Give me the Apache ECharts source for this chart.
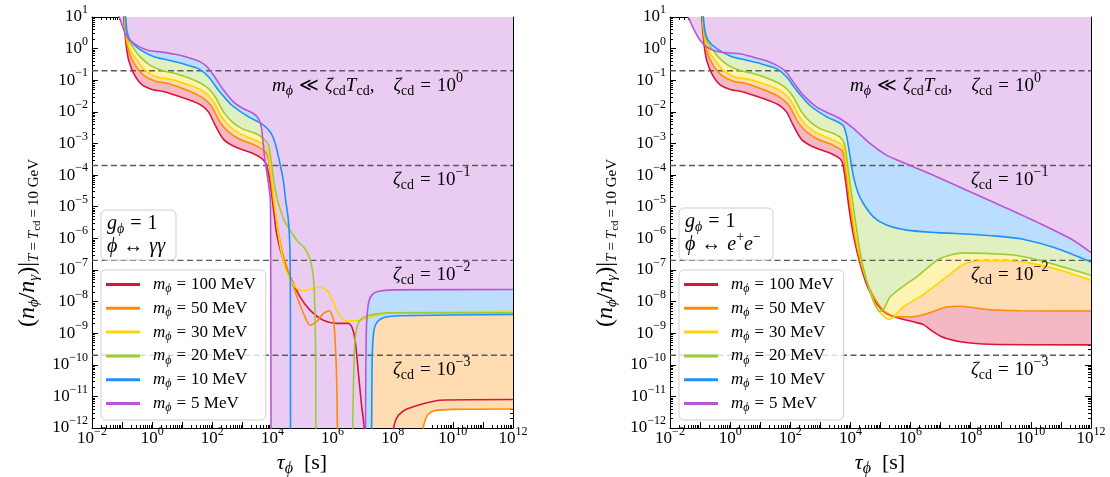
<!DOCTYPE html>
<html><head><meta charset="utf-8">
<script src="https://cdn.jsdelivr.net/npm/echarts@6/dist/echarts.min.js"></script>
<style>html,body{margin:0;padding:0;background:#fff}#c{width:1110px;height:477px}</style>
</head><body><div id="c"></div>
<script>
// ---------- DATA (pairs of [log10 tau_phi, log10 (n_phi/n_gamma)]) ----------
const masses = ['100 MeV', '50 MeV', '30 MeV', '20 MeV', '10 MeV', '5 MeV'];
const xLabelExps = [-2, 0, 2, 4, 6, 8, 10, 12];
const xMajorExps = [-2,-1,0,1,2,3,4,5,6,7,8,9,10,11,12];
const yLabelExps = [-12,-11,-10,-9,-8,-7,-6,-5,-4,-3,-2,-1,0,1];
const dashedLevels = [2e-1, 2e-4, 2e-7, 2e-10];

// Left panel: phi <-> gamma gamma
const gg100 = [[-0.95,1.1],[-0.93,0.8],[-0.89,0.35],[-0.85,0.0],[-0.78,-0.37],[-0.61,-0.79],[-0.34,-1.14],[0.0,-1.29],[0.44,-1.37],[0.88,-1.51],[1.33,-1.66],[1.66,-1.81],[1.88,-2.01],[2.10,-2.43],[2.38,-2.88],[2.77,-3.11],[3.32,-3.30],[3.65,-3.48],[3.79,-3.66],[3.90,-4.1],[4.0,-4.8],[4.14,-5.85],[4.36,-6.69],[4.59,-7.22],[4.92,-7.85],[5.25,-8.27],[5.69,-8.59],[6.14,-8.69],[6.53,-8.69],[6.64,-8.8],[6.75,-9.22],[6.86,-10.28],[6.97,-11.33],[7.05,-11.96],[7.1,-13],[7.15,-14.5],[7.95,-14.5],[8.0,-12.4],[8.05,-11.9],[8.19,-11.6],[8.47,-11.4],[9.02,-11.23],[9.57,-11.12],[12.0,-11.1]];
const gg50 = [[-0.93,1.1],[-0.89,0.58],[-0.84,0.16],[-0.73,-0.21],[-0.56,-0.53],[-0.28,-0.85],[0.11,-1.03],[0.55,-1.11],[0.99,-1.25],[1.44,-1.43],[1.77,-1.62],[1.99,-1.85],[2.27,-2.35],[2.55,-2.64],[2.88,-2.85],[3.43,-3.06],[3.71,-3.22],[3.84,-3.4],[3.93,-3.9],[4.03,-4.79],[4.31,-6.37],[4.59,-7.22],[4.86,-7.96],[5.08,-8.48],[5.25,-8.75],[5.47,-8.64],[5.69,-8.38],[5.89,-8.29],[6.03,-8.59],[6.09,-9.33],[6.14,-10.59],[6.16,-12.0],[6.18,-14.5],[8.98,-14.5],[9.02,-12],[9.1,-11.7],[9.2,-11.55],[9.4,-11.45],[10,-11.41],[12,-11.4]];
const gg30 = [[-0.92,1.1],[-0.88,0.58],[-0.81,0.21],[-0.69,-0.11],[-0.50,-0.37],[-0.23,-0.69],[0.16,-0.90],[0.66,-0.98],[1.10,-1.11],[1.55,-1.27],[1.83,-1.45],[2.05,-1.69],[2.32,-2.17],[2.60,-2.48],[2.93,-2.69],[3.43,-2.90],[3.71,-3.04],[3.86,-3.3],[3.93,-3.8],[4.06,-4.79],[4.25,-6.2],[4.47,-7.06],[4.81,-7.59],[5.03,-7.66],[5.31,-7.59],[5.58,-7.55],[5.86,-7.69],[6.14,-8.27],[6.41,-8.61],[6.80,-8.61],[7.36,-8.46],[7.91,-8.36],[12.0,-8.31]];
const gg20 = [[-0.90,1.1],[-0.87,0.58],[-0.78,0.26],[-0.61,0.0],[-0.39,-0.27],[-0.06,-0.53],[0.33,-0.69],[0.77,-0.79],[1.22,-0.93],[1.60,-1.09],[1.88,-1.27],[2.10,-1.53],[2.38,-2.01],[2.66,-2.32],[2.99,-2.53],[3.49,-2.71],[3.71,-2.85],[3.87,-3.06],[3.95,-3.5],[4.05,-4.2],[4.17,-4.8],[4.4,-5.45],[4.585,-5.74],[4.81,-6.06],[5.03,-6.27],[5.2,-6.53],[5.31,-6.9],[5.38,-7.43],[5.42,-8.6],[5.44,-10],[5.45,-14.5],[6.65,-14.5],[6.67,-12],[6.69,-10.8],[6.73,-9.5],[6.79,-8.9],[6.9,-8.6],[7.1,-8.47],[7.5,-8.39],[8,-8.36],[12,-8.36]];
const gg10 = [[-0.89,1.1],[-0.84,0.58],[-0.73,0.26],[-0.45,0.0],[0.0,-0.23],[0.55,-0.37],[1.10,-0.50],[1.55,-0.64],[1.88,-0.90],[2.21,-1.32],[2.66,-1.80],[3.21,-2.16],[3.65,-2.38],[3.93,-2.64],[4.08,-2.96],[4.22,-3.5],[4.36,-4.16],[4.44,-4.79],[4.53,-5.42],[4.58,-6.3],[4.595,-7.5],[4.60,-10],[4.61,-14.5],[7.28,-14.5],[7.30,-11.96],[7.32,-9.72],[7.38,-8.9],[7.49,-8.64],[7.74,-8.5],[8.24,-8.45],[12,-8.41]];
const gg5 = [[-1.11,1.05],[-1.0,0.74],[-0.89,0.47],[-0.73,0.26],[-0.45,0.07],[-0.12,-0.06],[0.33,-0.11],[0.77,-0.18],[1.22,-0.29],[1.60,-0.42],[1.83,-0.58],[2.05,-0.85],[2.38,-1.32],[2.71,-1.69],[3.04,-1.90],[3.38,-2.06],[3.54,-2.22],[3.63,-2.48],[3.68,-2.90],[3.74,-3.43],[3.82,-3.96],[3.93,-4.79],[3.94,-5.85],[3.95,-10],[3.96,-14.5],[7.08,-14.5],[7.10,-11],[7.12,-9],[7.16,-8.3],[7.22,-7.95],[7.32,-7.78],[7.5,-7.68],[8,-7.63],[12,-7.62]];

// Right panel: phi <-> e+ e-
const ee100 = [[-0.95,1.1],[-0.93,0.8],[-0.89,0.35],[-0.85,0.0],[-0.78,-0.37],[-0.61,-0.79],[-0.34,-1.14],[0.0,-1.29],[0.44,-1.37],[0.88,-1.51],[1.33,-1.66],[1.66,-1.81],[1.88,-2.01],[2.10,-2.43],[2.38,-2.88],[2.77,-3.11],[3.32,-3.30],[3.65,-3.48],[3.74,-3.63],[3.84,-4.2],[3.96,-5.1],[4.12,-6.0],[4.35,-6.9],[4.6,-7.6],[4.9,-8.1],[5.2,-8.38],[5.6,-8.52],[6.09,-8.64],[6.43,-8.73],[6.6,-8.85],[6.76,-8.96],[7.0,-9.1],[7.2,-9.17],[7.64,-9.27],[8.64,-9.35],[12,-9.37]];
const ee50 = [[-0.93,1.1],[-0.89,0.58],[-0.84,0.16],[-0.73,-0.21],[-0.56,-0.53],[-0.28,-0.85],[0.11,-1.03],[0.55,-1.11],[0.99,-1.25],[1.44,-1.43],[1.77,-1.62],[1.99,-1.85],[2.27,-2.35],[2.55,-2.64],[2.88,-2.85],[3.43,-3.06],[3.71,-3.22],[3.78,-3.4],[3.88,-4.1],[4.0,-5.0],[4.16,-6.0],[4.38,-6.9],[4.62,-7.55],[4.87,-8.0],[5.15,-8.33],[5.54,-8.48],[6.09,-8.48],[6.65,-8.35],[7.2,-8.17],[7.65,-8.15],[8.53,-8.25],[9.64,-8.29],[12,-8.3]];
const ee30 = [[-0.92,1.1],[-0.88,0.58],[-0.81,0.21],[-0.69,-0.11],[-0.50,-0.37],[-0.23,-0.69],[0.16,-0.90],[0.66,-0.98],[1.10,-1.11],[1.55,-1.27],[1.83,-1.45],[2.05,-1.69],[2.32,-2.17],[2.60,-2.48],[2.93,-2.69],[3.43,-2.90],[3.71,-3.04],[3.79,-3.25],[3.9,-4.0],[4.03,-5.0],[4.19,-6.0],[4.41,-6.9],[4.63,-7.6],[4.85,-8.15],[5.09,-8.45],[5.26,-8.57],[5.43,-8.5],[5.76,-8.17],[6.31,-7.85],[7.2,-7.22],[7.76,-6.82],[8.31,-6.71],[9.2,-6.71],[10.08,-6.8],[10.97,-7.0],[12,-7.33]];
const ee20 = [[-0.90,1.1],[-0.87,0.58],[-0.78,0.26],[-0.61,0.0],[-0.39,-0.27],[-0.06,-0.53],[0.33,-0.69],[0.77,-0.79],[1.22,-0.93],[1.60,-1.09],[1.88,-1.27],[2.10,-1.53],[2.38,-2.01],[2.66,-2.32],[2.99,-2.53],[3.49,-2.71],[3.71,-2.85],[3.82,-3.1],[3.93,-3.84],[4.05,-4.7],[4.21,-5.74],[4.37,-6.69],[4.6,-7.53],[4.82,-8.11],[4.98,-8.32],[5.12,-8.22],[5.32,-7.85],[5.65,-7.59],[6.2,-7.22],[6.98,-6.64],[7.76,-6.46],[8.53,-6.48],[9.42,-6.53],[10.19,-6.67],[10.97,-6.88],[12,-7.17]];
const ee10 = [[-0.90,1.1],[-0.84,0.58],[-0.73,0.26],[-0.45,0.0],[0.0,-0.23],[0.55,-0.37],[1.10,-0.50],[1.55,-0.64],[1.88,-0.90],[2.21,-1.32],[2.66,-1.80],[3.21,-2.16],[3.6,-2.33],[3.77,-2.45],[3.88,-2.8],[3.99,-3.43],[4.10,-4.05],[4.25,-4.55],[4.43,-4.9],[4.76,-5.32],[5.2,-5.58],[5.87,-5.74],[6.87,-5.82],[7.98,-5.87],[8.86,-5.93],[9.7,-6.02],[10.8,-6.3],[12,-6.75]];
const ee5 = [[-1.39,1.0],[-1.22,0.63],[-1.0,0.26],[-0.78,0.05],[-0.45,-0.09],[0.0,-0.14],[0.33,-0.16],[0.77,-0.27],[1.22,-0.39],[1.55,-0.53],[1.83,-0.71],[2.10,-1.06],[2.44,-1.48],[2.88,-1.85],[3.32,-2.06],[3.65,-2.21],[4.1,-2.52],[4.65,-3.0],[5.2,-3.37],[5.87,-3.65],[6.87,-4.05],[7.98,-4.53],[9.09,-5.0],[10.19,-5.48],[11.3,-6.0],[12,-6.45]];

// ---------- STYLE ----------
const SERIF = '"Liberation Serif", "DejaVu Serif", serif';
const lineColors = ['#DC143C', '#FF8C00', '#FFD700', '#9ACD32', '#1E90FF', '#BA55D3'];
const fillColors = ['#F4B8C4', '#FFDCB2', '#FFF3B2', '#E1F0C1', '#BBDEFF', '#EACCF2'];
const GRAY = '#8a8a8a';
const SM = 0.25;

function richSet(S, color, subSize) {
  const L = Math.round(S * 1.25);
  const ss = subSize || Math.round(S * 0.72);
  const b = { fontFamily: SERIF, color: color, fontSize: S, lineHeight: L };
  const down = Math.round(S * 0.5), up = Math.round(S * 0.8);
  const qp = Math.round(S * 0.3), sqp = Math.round(ss * 0.2);
  return {
    n: Object.assign({}, b),
    i: Object.assign({}, b, { fontStyle: 'italic' }),
    q: Object.assign({}, b, { padding: [0, qp, 0, qp] }),
    s: Object.assign({}, b, { fontSize: ss, fontStyle: 'italic', padding: [down, 0, 0, 0] }),
    r: Object.assign({}, b, { fontSize: ss, padding: [down, 0, 0, 0] }),
    sq: Object.assign({}, b, { fontSize: ss, padding: [down, sqp, 0, sqp] }),
    rr: Object.assign({}, b, { fontSize: Math.round(ss * 0.75), padding: [Math.round(S * 0.8), 0, 0, 0] }),
    e: Object.assign({}, b, { fontSize: ss, padding: [0, 0, up, 0] }),
    lp: Object.assign({}, b, { fontStyle: 'italic', padding: [0, 0, 0, 8] })
  };
}
const P = v => Math.pow(10, v);
const toPts = arr => arr.map(p => [P(p[0]), P(p[1])]);
const expStr = e => (e < 0 ? '\u2212' + (-e) : '' + e);
const tickFmt = v => '{n|10}{e|' + expStr(Math.round(Math.log10(v))) + '}';

const xMajor = xMajorExps.map(P);
const xLabels = xLabelExps.map(P);
const xMinor = [];
for (let d = -2; d < 12; d++) for (let k = 2; k <= 9; k++) xMinor.push(k * P(d));
const yMajor = yLabelExps.map(P);
const yMinor = [];
for (let d = -12; d < 1; d++) for (let k = 2; k <= 9; k++) yMinor.push(k * P(d));

const grids = [
  { left: 92, top: 17, width: 421, height: 411 },
  { left: 670, top: 17, width: 421, height: 411 }
];
const AX = { color: '#000', width: 1 };
const xAxes = [], yAxes = [];
const tickR = richSet(17, '#000');
grids.forEach((g, gi) => {
  const common = { type: 'log', logBase: 10, gridIndex: gi, splitLine: { show: false } };
  xAxes.push(Object.assign({}, common, {
    min: 1e-2, max: 1e12, position: 'bottom',
    axisLine: { show: true, onZero: false, lineStyle: AX },
    axisTick: { show: true, inside: true, length: 6, customValues: xMajor, lineStyle: AX },
    axisLabel: { show: true, customValues: xLabels, formatter: tickFmt, rich: tickR, margin: 0 }
  }));
  xAxes.push(Object.assign({}, common, { min: 1e-2, max: 1e12, position: 'bottom',
    axisLine: { show: false, onZero: false }, axisTick: { show: true, inside: true, length: 3, customValues: xMinor, lineStyle: AX }, axisLabel: { show: false } }));
  xAxes.push(Object.assign({}, common, { min: 1e-2, max: 1e12, position: 'top',
    axisLine: { show: true, onZero: false, lineStyle: AX }, axisTick: { show: true, inside: true, length: 6, customValues: xMajor, lineStyle: AX }, axisLabel: { show: false } }));
  xAxes.push(Object.assign({}, common, { min: 1e-2, max: 1e12, position: 'top',
    axisLine: { show: false, onZero: false }, axisTick: { show: true, inside: true, length: 3, customValues: xMinor, lineStyle: AX }, axisLabel: { show: false } }));

  yAxes.push(Object.assign({}, common, {
    min: 1e-12, max: 1e1, position: 'left',
    axisLine: { show: true, onZero: false, lineStyle: AX },
    axisTick: { show: true, inside: true, length: 6, customValues: yMajor, lineStyle: AX },
    axisLabel: { show: true, customValues: yMajor, formatter: tickFmt, rich: tickR, margin: 4 }
  }));
  yAxes.push(Object.assign({}, common, { min: 1e-12, max: 1e1, position: 'left',
    axisLine: { show: false, onZero: false }, axisTick: { show: true, inside: true, length: 3, customValues: yMinor, lineStyle: AX }, axisLabel: { show: false } }));
  yAxes.push(Object.assign({}, common, { min: 1e-12, max: 1e1, position: 'right',
    axisLine: { show: true, onZero: false, lineStyle: AX }, axisTick: { show: true, inside: true, length: 6, customValues: yMajor, lineStyle: AX }, axisLabel: { show: false } }));
  yAxes.push(Object.assign({}, common, { min: 1e-12, max: 1e1, position: 'right',
    axisLine: { show: false, onZero: false }, axisTick: { show: true, inside: true, length: 3, customValues: yMinor, lineStyle: AX }, axisLabel: { show: false } }));
});

const panels = [
  [gg100, gg50, gg30, gg20, gg10, gg5],
  [ee100, ee50, ee30, ee20, ee10, ee5]
];
const series = [];
panels.forEach((curves, pi) => {
  const xi = pi * 4, yi = pi * 4;
  curves.forEach((d, k) => series.push({
    type: 'line', name: 'fill-' + pi + '-' + k, xAxisIndex: xi, yAxisIndex: yi,
    data: toPts(d), symbol: 'none', showSymbol: false, smooth: SM, silent: true,
    lineStyle: { width: 0 }, areaStyle: { color: fillColors[k], opacity: 1, origin: 'end' }, z: 1
  }));
  dashedLevels.forEach((lv, j) => series.push({
    type: 'line', name: 'dash-' + pi + '-' + j, xAxisIndex: xi, yAxisIndex: yi,
    data: [[1e-2, lv], [1e12, lv]], symbol: 'none', silent: true,
    lineStyle: { color: '#5a5a5a', width: 1.4, type: [6, 3.5] }, z: 2
  }));
  curves.forEach((d, k) => series.push({
    type: 'line', name: masses[k], xAxisIndex: xi, yAxisIndex: yi,
    data: toPts(d), symbol: 'none', showSymbol: false, smooth: SM,
    color: lineColors[k], itemStyle: { color: lineColors[k] },
    lineStyle: { color: lineColors[k], width: 1.6 }, z: 3
  }));
});

const legR = richSet(17, '#000');
function legend(left) {
  return {
    left: left, top: 270, orient: 'vertical', data: masses,
    icon: 'rect', itemWidth: 34, itemHeight: 3, itemGap: 2.8,
    padding: [4, 10, 6, 5], backgroundColor: 'rgba(255,255,255,0.8)',
    borderColor: '#cfcfcf', borderWidth: 1, borderRadius: 5,
    selectedMode: false,
    formatter: name => '{lp|m}{s|\u03D5}{q|=}{n|' + name + '}',
    textStyle: { rich: legR }
  };
}

const annR = richSet(19, GRAY);
const boxR = richSet(20, '#000');
const nameR = richSet(24, '#000', 15);
const xNameR = richSet(22, '#000');
function annotations(dx) {
  const t = (x, y, text, rich) => ({ type: 'text', x: x + dx, y: y, z: 100,
    style: { text: text, rich: rich, align: 'left', verticalAlign: 'middle' } });
  return [
    t(272, 86, '{i|m}{s|\u03D5}{q|\u226A}{i|\u03B6}{r|cd}{i|T}{r|cd}{n|,    }{i|\u03B6}{r|cd}{q|=}{n|10}{e|0}', annR),
    t(393, 180, '{i|\u03B6}{r|cd}{q|=}{n|10}{e|\u22121}', annR),
    t(393, 275, '{i|\u03B6}{r|cd}{q|=}{n|10}{e|\u22122}', annR),
    t(393, 370, '{i|\u03B6}{r|cd}{q|=}{n|10}{e|\u22123}', annR)
  ];
}
function axisNames(dx, cx) {
  return [
    { type: 'text', z: 100, x: 302 + dx, y: 463,
      style: { text: '{i|\u03C4}{s|\u03D5}{n|  [s]}', rich: xNameR, align: 'center', verticalAlign: 'middle' } },
    { type: 'text', z: 100, x: cx, y: 243, rotation: Math.PI / 2,
      style: { text: '{n|(}{i|n}{s|\u03D5}{n|/}{i|n}{s|\u03B3}{n|)|}{s|T}{sq|=}{s|T}{rr|cd}{sq|=}{r|10 GeV}',
        rich: nameR, align: 'center', verticalAlign: 'middle' } }
  ];
}
function box(x, y, w, h, line2) {
  return [
    { type: 'rect', z: 100, shape: { x: x, y: y, width: w, height: h, r: 5 },
      style: { fill: 'rgba(255,255,255,0.8)', stroke: '#cfcfcf', lineWidth: 1 } },
    { type: 'text', z: 101, x: x + 6, y: y + 14,
      style: { text: '{i|g}{s|\u03D5}{q|=}{n|1}', rich: boxR, align: 'left', verticalAlign: 'middle' } },
    { type: 'text', z: 101, x: x + 6, y: y + 37,
      style: { text: line2, rich: boxR, align: 'left', verticalAlign: 'middle' } }
  ];
}

const chart = echarts.init(document.getElementById('c'), null, { renderer: 'canvas' });
chart.setOption({
  animation: false,
  backgroundColor: '#fff',
  grid: grids,
  xAxis: xAxes,
  yAxis: yAxes,
  legend: [legend(101), legend(679)],
  series: series,
  graphic: [].concat(
    annotations(0), annotations(578),
    axisNames(0, 28), axisNames(578, 606),
    box(101, 210, 75, 50, '{i|\u03D5}{q|\u2194}{i|\u03B3\u03B3}'),
    box(679, 208, 94, 52, '{i|\u03D5}{q|\u2194}{i|e}{e|+}{i|e}{e|\u2212}')
  )
});
</script></body></html>
